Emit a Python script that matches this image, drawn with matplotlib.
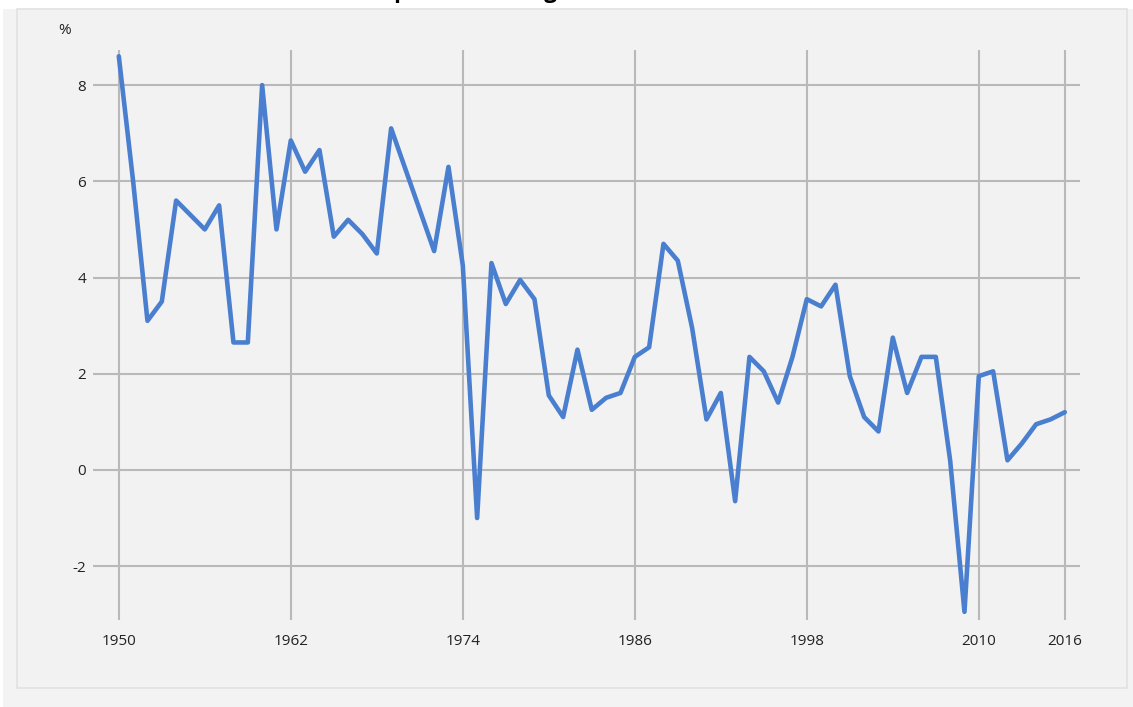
import matplotlib
matplotlib.use("Agg")
import matplotlib.pyplot as plt
from matplotlib.patches import Rectangle

years = list(range(1950, 2017))
growth = [8.6, 6.0, 3.1, 3.5, 5.6, 5.3, 5.0, 5.5, 2.65, 2.65,
          8.0, 5.0, 6.85, 6.2, 6.65, 4.85, 5.2, 4.9, 4.5, 7.1,
          6.25, 5.4, 4.55, 6.3, 4.25, -1.0, 4.3, 3.45, 3.95, 3.55,
          1.55, 1.1, 2.5, 1.25, 1.5, 1.6, 2.35, 2.55, 4.7, 4.35,
          2.95, 1.05, 1.6, -0.65, 2.35, 2.05, 1.4, 2.35, 3.55, 3.4,
          3.85, 1.95, 1.1, 0.8, 2.75, 1.6, 2.35, 2.35, 0.2, -2.95,
          1.95, 2.05, 0.2, 0.55, 0.95, 1.05, 1.2]
xticks = [1950, 1962, 1974, 1986, 1998, 2010, 2016]
yticks = [-2, 0, 2, 4, 6, 8]
title = "Annual per cent GDP growth"

plt.rcParams['font.family'] = ['Open Sans', 'DejaVu Sans']
W, H = 1133, 707
fig = plt.figure(figsize=(W / 100, H / 100), dpi=100)
fig.patch.set_facecolor('white')

# outer grey background and inner panel
fig.patches.append(Rectangle((3 / W, 0), 1 - 3 / W, 1 - 9 / H, transform=fig.transFigure,
                             facecolor='#f3f3f3', edgecolor='none', zorder=-2))
fig.patches.append(Rectangle((17 / W, (H - 688) / H), (1127 - 17) / W, (688 - 9) / H,
                             transform=fig.transFigure, facecolor='#f2f2f2',
                             edgecolor='#e2e2e2', linewidth=1.2, zorder=-1))

left, right, top, bottom = 93, 1080, 50, 620
ax = fig.add_axes([left / W, (H - bottom) / H, (right - left) / W, (bottom - top) / H])
ax.set_zorder(1)
ax.set_facecolor('none')
ax.plot(years, growth, color='#4a7fd0', linewidth=3.3, solid_joinstyle='round',
        solid_capstyle='round', zorder=3)

ax.set_xlim(1948.2, 2017.06)
ax.set_ylim(-3.12, 8.73)
ax.set_xticks(xticks)
ax.set_yticks(yticks)
ax.set_yticklabels([str(v) for v in yticks])
ax.grid(True, color='#b9b9b9', linewidth=1.5, zorder=1)
ax.set_axisbelow(True)
for s in ax.spines.values():
    s.set_visible(False)
ax.tick_params(axis='both', length=0, labelsize=11, colors='#222222')
ax.tick_params(axis='x', pad=10)
ax.tick_params(axis='y', pad=5)

fig.text(65 / W, 1 - 30 / H, '%', ha='center', va='center', fontsize=11, color='#222222')
fig.text(466 / W, 1 + 2 / H, title, ha='center', va='baseline', fontsize=16,
         fontweight='bold', color='black')

fig.savefig('out.png', dpi=100, facecolor=fig.get_facecolor())
